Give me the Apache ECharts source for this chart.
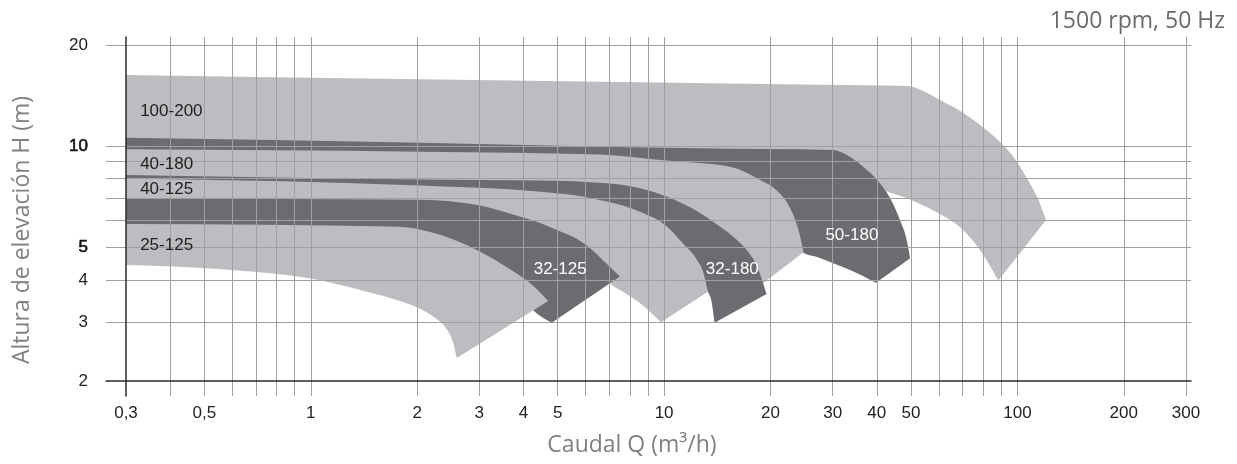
<!DOCTYPE html>
<html>
<head>
<meta charset="utf-8">
<script src="https://cdn.jsdelivr.net/npm/echarts@6/dist/echarts.min.js"></script>
<style>
html,body{margin:0;padding:0;background:#ffffff;}
#chart{width:1237px;height:464px;}
</style>
</head>
<body>
<div id="chart"></div>
<script>
// ---------------- DATA (Q in m3/h, H in m) ----------------
const flowGridValues = [0.3,0.4,0.5,0.6,0.7,0.8,0.9,1,2,3,4,5,6,7,8,9,10,20,30,40,50,60,70,80,90,100,200,300];
const flowTickLabels = [0.3,0.5,1,2,3,4,5,10,20,30,40,50,100,200,300];
const headGridValues = [2,3,4,5,6,7,8,9,10,20];
const headTickLabels = [2,3,4,5,10,20];

// Pump operating ranges, outline points [Q, H]: upper curve (left->right), then lower curve (right->left)
const range100_200 = [[0.30,16.29],[2.04,15.81],[27.6,15.24],[49.0,15.10],[54.8,14.50],[60.4,13.72],[69.7,12.64],[78.4,11.56],[89.3,10.29],[98.4,9.16],[107.1,7.93],[114.4,6.96],[120.5,6.03],
  [88.3,3.98],[78.4,4.91],[69.7,5.67],[60.4,6.28],[53.0,6.73],[48.1,7.03],[42.7,7.33],[38.3,7.66],[33.6,8.21],[30.1,8.61],[24.3,8.91],[14.4,9.10],[2.04,9.61],[0.30,10.01]];
const range50_180 = [[0.30,10.59],[2.04,10.24],[12.6,9.85],[30.1,9.74],[31.5,9.62],[32.9,9.41],[36.6,8.69],[40.1,7.93],[43.6,7.01],[46.5,6.03],[48.6,5.26],[49.7,4.64],
  [39.8,3.92],[33.6,4.28],[30.1,4.48],[27.1,4.68],[24.8,4.82],[23.5,5.26],[22.0,6.03],[19.9,6.92],[17.5,7.66],[14.4,8.21],[11.1,8.67],[7.50,9.03],[2.04,9.28],[0.30,9.41]];
const range40_180 = [[0.30,9.79],[2.04,9.63],[6.59,9.44],[9.74,9.10],[12.6,8.91],[15.7,8.64],[18.7,7.93],[20.6,7.46],[22.3,6.78],[23.5,6.03],[24.25,5.40],[24.8,4.83],
  [17.7,3.68],[16.9,4.14],[15.9,4.74],[14.4,5.33],[12.6,5.95],[10.7,6.55],[8.83,7.01],[7.03,7.41],[4.46,7.61],[2.04,7.66],[0.30,7.88]];
const range32_180 = [[0.30,8.21],[2.04,7.96],[4.46,7.90],[6.89,7.75],[8.55,7.49],[10.2,7.07],[11.8,6.59],[13.8,5.95],[15.7,5.37],[17.2,4.88],[18.3,4.40],[19.5,3.63],
  [13.9,2.98],[13.6,3.48],[13.3,3.69],[12.6,4.14],[11.8,4.65],[10.7,5.19],[9.43,5.79],[7.50,6.41],[5.52,6.87],[4.46,7.06],[2.04,7.36],[0.30,7.66]];
const range40_125 = [[0.30,8.01],[2.04,7.63],[4.46,7.32],[5.52,7.16],[6.89,6.84],[8.55,6.38],[10.2,5.76],[11.3,5.14],[12.4,4.58],[12.9,4.22],[13.3,3.69],
  [9.80,2.99],[8.55,3.41],[7.65,3.69],[7.03,3.91],[6.59,4.28],[5.78,4.74],[5.08,5.26],[4.17,5.83],[3.43,6.24],[2.65,6.55],[2.04,6.68],[0.30,6.68]];
const range32_125 = [[0.30,6.99],[2.04,6.92],[3.01,6.66],[3.99,6.13],[4.46,5.91],[4.98,5.63],[5.52,5.37],[6.17,4.98],[6.89,4.46],[7.50,4.09],
  [4.81,2.98],[4.26,3.25],[3.91,3.61],[3.43,4.00],[3.01,4.52],[2.48,4.91],[2.04,5.26],[1.29,5.48],[0.30,5.55]];
const range25_125 = [[0.30,5.87],[1.79,5.76],[2.22,5.52],[3.01,4.86],[3.74,4.24],[4.26,3.84],[4.70,3.46],
  [2.59,2.34],[2.53,2.60],[2.43,2.84],[2.22,3.11],[2.04,3.28],[1.79,3.46],[1.44,3.69],[0.98,4.05],[0.60,4.28],[0.30,4.43]];

const rangeNames = ['100-200','50-180','40-180','32-180','40-125','32-125','25-125'];
const rangeOutlines = [range100_200, range50_180, range40_180, range32_180, range40_125, range32_125, range25_125];
const rangeUpperCount = [13, 12, 12, 12, 11, 10, 7];   // points belonging to the upper curve
const rangeTone = ['light','dark','light','dark','light','dark','light'];

// Model label anchors [name, Q, H]
const labelAnchors = [['100-200',0.329,12.66],['40-180',0.329,8.85],['40-125',0.329,7.46],['25-125',0.329,5.08],
  ['32-125',5.08,4.31],['32-180',15.6,4.31],['50-180',34.0,5.41]];

// ---------------- STYLE / LAYOUT ----------------
const LIGHT = '#bcbdc1', DARK = '#6b6c70', GRIDC = '#a0a0a0';
const Q0 = 0.3, H0 = 2;
const tx = q => Math.log10(q / Q0);
const ty = h => Math.log10(h / H0);
const PX_X = 1060 / tx(300);   // px per decade along x
const PX_Y = 336 / ty(20);     // px per decade along y
const TICK_FONT = '"Liberation Sans", Arial, sans-serif';
const TITLE_FONT = '"Open Sans", "Noto Sans", sans-serif';

function fmtQ(v){
  const q = Q0 * Math.pow(10, v);
  if (q < 1) return (Math.round(q * 10) / 10).toString().replace('.', ',');
  return String(Math.round(q));
}
function fmtH(v){
  const h = Math.round(H0 * Math.pow(10, v));
  return (h === 5 || h === 10) ? '{b|' + h + '}' : String(h);
}

// monotone cubic (in x) bezier segments through pixel points
function monoSegments(p){
  const n = p.length;
  if (n < 2) return [];
  const h = [], s = [];
  for (let i = 0; i < n - 1; i++){ h[i] = p[i+1][0] - p[i][0]; s[i] = (p[i+1][1] - p[i][1]) / h[i]; }
  const m = new Array(n);
  for (let i = 1; i < n - 1; i++){
    if (s[i-1] * s[i] <= 0) { m[i] = 0; continue; }
    const t = (s[i-1] * h[i] + s[i] * h[i-1]) / (h[i-1] + h[i]);
    m[i] = (Math.sign(s[i-1]) + Math.sign(s[i])) * Math.min(Math.abs(s[i-1]), Math.abs(s[i]), 0.5 * Math.abs(t));
  }
  m[0] = n > 2 ? (3 * s[0] - m[1]) / 2 : s[0];
  m[n-1] = n > 2 ? (3 * s[n-2] - m[n-2]) / 2 : s[n-2];
  const segs = [];
  for (let i = 0; i < n - 1; i++){
    const d = h[i] / 3;
    segs.push([p[i][0] + d, p[i][1] + m[i] * d, p[i+1][0] - d, p[i+1][1] - m[i+1] * d, p[i+1][0], p[i+1][1]]);
  }
  return segs;
}

const chart = echarts.init(document.getElementById('chart'), null, {renderer:'canvas'});
chart.setOption({
  backgroundColor: '#ffffff',
  animation: false,
  grid: {left: 106, top: 37, width: 1085, height: 359, containLabel: false, outerBoundsMode: 'none'},
  xAxis: {
    type: 'value', z: 3,
    min: -20 / PX_X, max: tx(300) + 5 / PX_X,
    axisLine: {show: true, onZero: true, lineStyle: {color: '#2a2a2a', width: 1.5}},
    axisTick: {show: false, customValues: flowGridValues.filter(q => q !== Q0).map(tx)},
    splitLine: {show: true, lineStyle: {color: GRIDC, width: 1}},
    axisLabel: {customValues: flowTickLabels.map(tx), formatter: fmtQ, color: '#222', fontSize: 17, fontFamily: TICK_FONT, margin: 9}
  },
  yAxis: {
    type: 'value', z: 3,
    min: -15 / PX_Y, max: ty(20) + 8 / PX_Y,
    axisLine: {show: true, onZero: true, lineStyle: {color: '#2a2a2a', width: 1.5}},
    axisTick: {show: false, customValues: headGridValues.filter(h => h !== H0).map(ty)},
    splitLine: {show: true, lineStyle: {color: GRIDC, width: 1}},
    axisLabel: {customValues: headTickLabels.map(ty), formatter: fmtH, color: '#222', fontSize: 17, fontFamily: TICK_FONT, margin: 18,
      rich: {b: {color: '#111', fontSize: 17, fontFamily: TICK_FONT, textBorderColor: '#111', textBorderWidth: 0.6}}}
  },
  series: [
    {
      type: 'custom', z: 1, silent: true, clip: false,
      data: rangeOutlines.map(r => [tx(r[0][0]), ty(r[0][1])]),
      renderItem: function(params, api){
        const i = params.dataIndex;
        const outline = rangeOutlines[i];
        const px = outline.map(p => api.coord([tx(p[0]), ty(p[1])]));
        const upper = px.slice(0, rangeUpperCount[i]);
        const lower = px.slice(rangeUpperCount[i]);
        let d = 'M' + upper[0][0] + ' ' + upper[0][1];
        monoSegments(upper).forEach(c => { d += 'C' + c.join(' '); });
        d += 'L' + lower[0][0] + ' ' + lower[0][1];
        monoSegments(lower).forEach(c => { d += 'C' + c.join(' '); });
        d += 'Z';
        return {type: 'path', shape: {pathData: d},
          style: {fill: rangeTone[i] === 'dark' ? DARK : LIGHT, stroke: null}};
      }
    },
    {
      type: 'custom', z: 6, silent: true, clip: false,
      data: labelAnchors.map(a => [tx(a[1]), ty(a[2])]),
      renderItem: function(params, api){
        const a = labelAnchors[params.dataIndex];
        const p = api.coord([tx(a[1]), ty(a[2])]);
        const idx = rangeNames.indexOf(a[0]);
        const onDark = rangeTone[idx] === 'dark';
        return {type: 'text', x: p[0], y: p[1],
          style: {text: a[0], fill: onDark ? '#ffffff' : '#222222', fontSize: 17, fontFamily: TICK_FONT,
            align: onDark ? 'center' : 'left', verticalAlign: 'middle'}};
      }
    }
  ],
  graphic: [
    {type: 'text', x: 1225, y: 21,
      style: {text: '1500 rpm, 50 Hz', fill: '#6a6a6a', fontSize: 23, fontFamily: TITLE_FONT, align: 'right', verticalAlign: 'middle'}},
    {type: 'text', x: 22, y: 230, rotation: Math.PI / 2,
      style: {text: 'Altura de elevación H (m)', fill: '#808080', fontSize: 23, fontFamily: TITLE_FONT, align: 'center', verticalAlign: 'middle'}},
    {type: 'text', x: 632, y: 445,
      style: {text: 'Caudal Q (m³/h)', fill: '#808080', fontSize: 23, fontFamily: TITLE_FONT, align: 'center', verticalAlign: 'middle'}}
  ]
});
</script>
</body>
</html>
